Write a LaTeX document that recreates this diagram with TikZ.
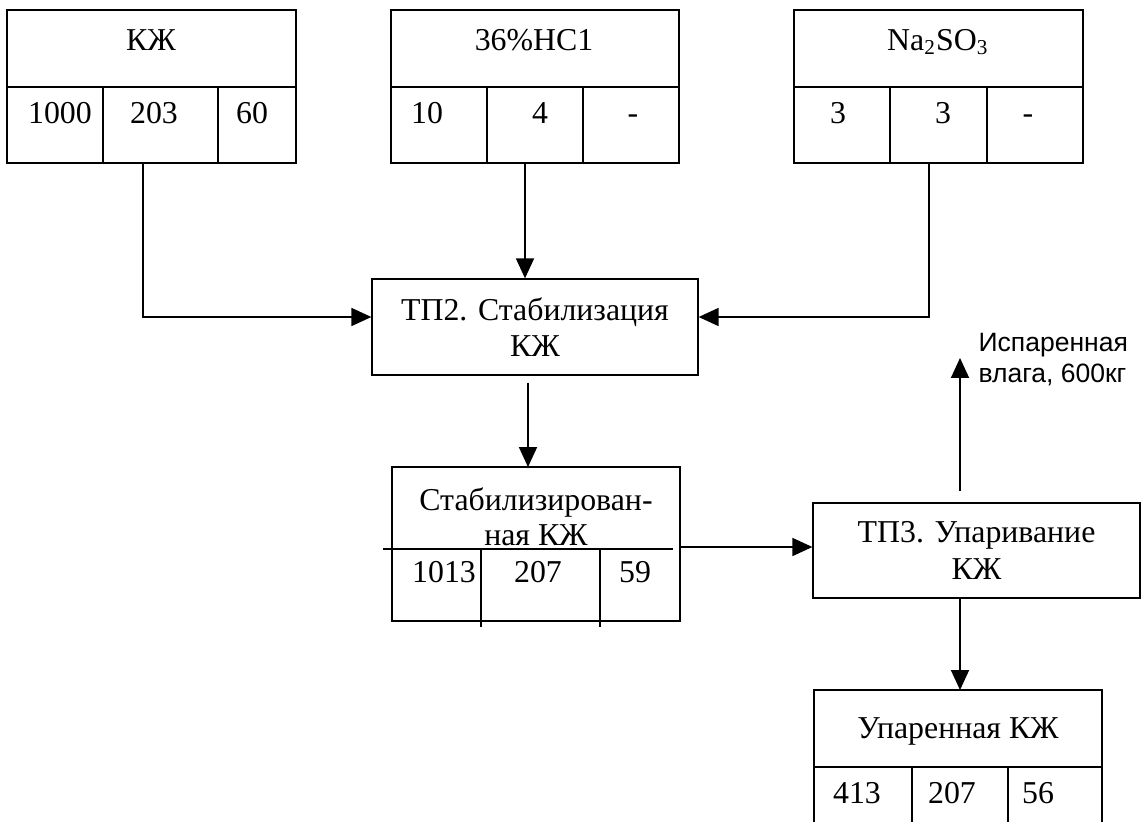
\documentclass[tikz,border=0pt]{standalone}
\usepackage{fontspec}
\setmainfont{Liberation Serif}
\setsansfont{Liberation Sans}
\usetikzlibrary{calc,arrows.meta}

\def\pxsize{0.377pt}

\begin{document}
\begin{tikzpicture}[x=\pxsize,y=-\pxsize,
  line/.style={line width=0.5pt},
  txt/.style={font=\fontsize{12}{13.7}\selectfont, inner sep=0pt, anchor=base},
  proc/.style={draw, line width=0.5pt, inner sep=0pt, align=center,
    font=\fontsize{12}{13.8}\selectfont},
  flow/.style={line width=0.5pt, -{Triangle[length=7.5pt,width=6.8pt]}}]
  \useasboundingbox (0,0) rectangle (1142,821);
  \clip (0,0) rectangle (1142,821);

  %% Input tables: name, edges, title, three values, outlet
  \foreach \nm/\xl/\xa/\xb/\xr/\ttl/\tx/\va/\vax/\vb/\vbx/\vc/\vcx/\ox in
  {KZh/7/103/218/296/КЖ/151/1000/60/203/154/60/252/143,
   HCl/391/487/583/679/36\%HC1/534/10/427/4/540/-/633/525,
   NaS/794/890/987/1083/{Na\textsubscript{2}SO\textsubscript{3}}/938/3/838/3/943/-/1028/929}
  {
    \coordinate (\nm-nw) at (\xl,10);
    \coordinate (\nm-se) at (\xr,163);
    \draw[line] (\nm-nw) rectangle (\nm-se);
    \draw[line] (\xl,87) -- (\xr,87);
    \draw[line] (\xa,87) -- (\xa,163);
    \draw[line] (\xb,87) -- (\xb,163);
    \node[txt] (\nm-t) at (\tx,50) {\ttl};
    \node[txt] (\nm-a) at (\vax,123) {\va};
    \node[txt] (\nm-b) at (\vbx,123) {\vb};
    \node[txt] (\nm-c) at (\vcx,123) {\vc};
    \coordinate (\nm-out) at (\ox,163);
  }

  %% Process steps
  \node[proc, minimum width=326*\pxsize, minimum height=96*\pxsize] (TP2) at (535,327)
    {ТП2. Стабилизация\\КЖ};
  \node[proc, minimum width=327*\pxsize, minimum height=95*\pxsize] (TP3) at (976.5,550.5)
    {ТП3. Упаривание\\КЖ};

  \draw[flow] (KZh-out) |- ($(TP2.west)+(0,-10)$);
  \draw[flow] (HCl-out) -- (HCl-out |- TP2.north);
  \draw[flow] (NaS-out) |- ($(TP2.east)+(0,-10)$);

  %% Stabilised liquor table
  \coordinate (Stab-nw) at (392,467);
  \coordinate (Stab-se) at (680,621);
  \draw[line] (Stab-nw) rectangle (Stab-se);
  \draw[line] (383,549) -- (673,549);
  \draw[line] (481,549) -- (481,627);
  \draw[line] (600,549) -- (600,627);
  \node[txt] (Stab-t1) at (536,510) {Стабилизирован-};
  \node[txt] (Stab-t2) at (536,545) {ная КЖ};
  \node[txt] (Stab-a) at (444,582) {1013};
  \node[txt] (Stab-b) at (538,582) {207};
  \node[txt] (Stab-c) at (635,582) {59};
  \coordinate (Stab-in) at (528,467);
  \coordinate (Stab-out) at (680,547);

  \draw[flow] ($(Stab-in |- TP2.south)+(0,7)$) -- (Stab-in);
  \draw[flow] (Stab-out) -- (Stab-out -| TP3.west);

  %% Evaporated moisture
  \coordinate (vap) at (960,358);
  \draw[flow] ($(vap |- TP3.north)+(0,-11)$) -- (vap);
  \node[anchor=north west, inner sep=0pt, align=left,
    font=\sffamily\fontsize{10}{11.5}\selectfont] (vapl) at (978,333)
    {Испаренная\\влага, 600кг};

  %% Evaporated liquor table
  \coordinate (Upr-nw) at (814,690);
  \coordinate (Upr-se) at (1102,840);
  \draw[line] (Upr-nw) rectangle (Upr-se);
  \draw[line] (814,767) -- (1102,767);
  \draw[line] (912,767) -- (912,840);
  \draw[line] (1008,767) -- (1008,840);
  \node[txt] (Upr-t) at (958,738) {Упаренная КЖ};
  \node[txt] (Upr-a) at (857,803) {413};
  \node[txt] (Upr-b) at (952,803) {207};
  \node[txt] (Upr-c) at (1038,803) {56};
  \coordinate (Upr-in) at (960,690);

  \draw[flow] (Upr-in |- TP3.south) -- (Upr-in);
\end{tikzpicture}
\end{document}
